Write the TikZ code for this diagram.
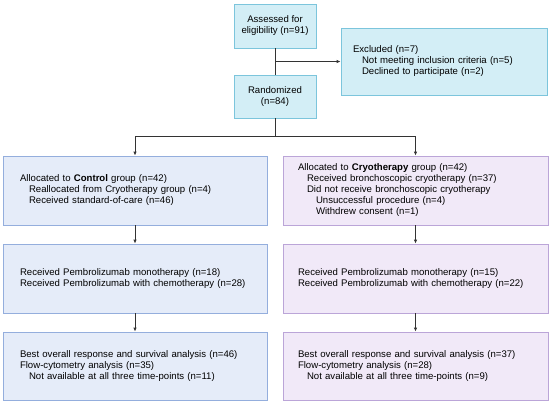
\documentclass[tikz,border=0pt]{standalone}
\usepackage{fontspec}
\setmainfont{Liberation Sans}
\usetikzlibrary{arrows.meta}
\definecolor{screenfill}{HTML}{D3EEF6}
\definecolor{screenline}{HTML}{7CC5DC}
\definecolor{ctrlfill}{HTML}{E5ECF9}
\definecolor{ctrlline}{HTML}{94AEDD}
\definecolor{cryofill}{HTML}{F1E9F8}
\definecolor{cryoline}{HTML}{BBA5D8}
\definecolor{linkgray}{HTML}{333333}
\newcommand{\ind}{\hspace*{9pt}}

\begin{document}
\begin{tikzpicture}[
	x=1pt, y=1pt,
	every node/.style={font=\fontsize{9.6}{11}\selectfont},
	screen/.style={draw=screenline, fill=screenfill, line width=0.8pt, inner sep=0pt, align=center},
	ctrlbox/.style={draw=ctrlline, fill=ctrlfill, line width=0.8pt, inner xsep=17pt, inner ysep=0pt, text width=230pt, minimum height=69pt, align=left},
	cryobox/.style={draw=cryoline, fill=cryofill, line width=0.8pt, inner xsep=15pt, inner ysep=0pt, text width=235pt, minimum height=69pt, align=left},
	link/.style={draw=linkgray, line width=0.8pt},
	arr/.style={link, -{Latex[length=4pt,width=3.5pt]}}
]
\useasboundingbox (0,0) rectangle (550,-405);

% screening
\node[screen, minimum width=82pt, minimum height=44pt] (assess) at (275,-26) {Assessed for\\eligibility (n=91)};
\node[screen, minimum width=206pt, minimum height=67pt, text width=182pt, inner xsep=12pt, align=left] (excl) at (444,-61.5)
	{Excluded (n=7)\\\ind Not meeting inclusion criteria (n=5)\\\ind Declined to participate (n=2)};
\node[screen, minimum width=82pt, minimum height=43pt] (rand) at (275,-96.5) {Randomized\\(n=84)};

% control arm
\node[ctrlbox] (ctrl1) at (135,-190.5)
	{Allocated to \textbf{Control} group (n=42)\\\ind Reallocated from Cryotherapy group (n=4)\\\ind Received standard-of-care (n=46)};
\node[ctrlbox] (ctrl2) at (135,-278.5)
	{Received Pembrolizumab monotherapy (n=18)\\Received Pembrolizumab with chemotherapy (n=28)};
\node[ctrlbox, minimum height=68pt] (ctrl3) at (135,-366)
	{Best overall response and survival analysis (n=46)\\Flow-cytometry analysis (n=35)\\\ind Not available at all three time-points (n=11)};

% cryotherapy arm
\node[cryobox] (cryo1) at (415.5,-190.5)
	{Allocated to \textbf{Cryotherapy} group (n=42)\\\ind Received bronchoscopic cryotherapy (n=37)\\\ind Did not receive bronchoscopic cryotherapy\\\ind\ind Unsuccessful procedure (n=4)\\\ind\ind Withdrew consent (n=1)};
\node[cryobox] (cryo2) at (415.5,-278.5)
	{Received Pembrolizumab monotherapy (n=15)\\Received Pembrolizumab with chemotherapy (n=22)};
\node[cryobox, minimum height=68pt] (cryo3) at (415.5,-366)
	{Best overall response and survival analysis (n=37)\\Flow-cytometry analysis (n=28)\\\ind Not available at all three time-points (n=9)};

% connectors
\coordinate (split) at (275,-136);
\draw[link] (assess) -- (rand);
\draw[arr] (assess.south |- excl.west) -- (excl.west);
\draw[link] (rand) -- (split);
\draw[arr] (split) -| (ctrl1.north);
\draw[arr] (split) -| (cryo1.north);
\draw[arr] (ctrl1) -- (ctrl2);
\draw[arr] (ctrl2) -- (ctrl3);
\draw[arr] (cryo1) -- (cryo2);
\draw[arr] (cryo2) -- (cryo3);
\end{tikzpicture}
\end{document}
